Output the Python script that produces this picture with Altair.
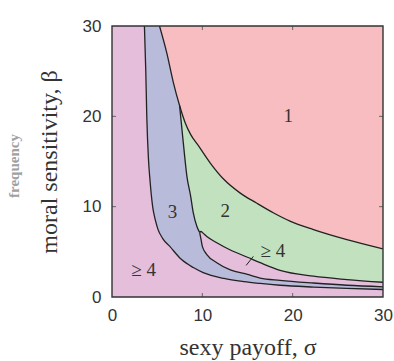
import altair as alt
import pandas as pd

# ---- boundary curves (sigma, beta) ----
c1_sigma = [3.59, 3.74, 3.85, 4.04, 4.2, 4.5, 4.8, 5.1, 5.6, 6.4, 7.7, 9.0, 10.1, 12.4, 14.6, 16.4, 18.6, 22.3, 26.0, 30.0]
c1_beta = [30.0, 25.0, 20.0, 15.2, 13.0, 10.0, 8.5, 7.46, 6.5, 5.6, 4.14, 3.26, 2.7, 2.05, 1.7, 1.5, 1.3, 1.1, 0.95, 0.83]

red_sigma = [5.26, 6.07, 6.8, 7.48, 8.1, 8.7, 9.6, 10.9, 12.4, 14.2, 16.0, 17.9, 19.7, 22.3, 26.0, 30.0]
red_beta = [30.0, 27.0, 23.7, 21.2, 19.3, 18.0, 16.7, 14.8, 13.0, 11.5, 10.4, 9.3, 8.4, 7.46, 6.35, 5.33]

bg_sigma = [7.48, 7.9, 8.3, 8.7, 9.0, 9.4, 9.7]
bg_beta = [21.2, 17.0, 13.3, 11.2, 9.3, 7.8, 7.15]

lobe_sigma = [9.7, 9.85, 10.0, 10.5, 11.6, 13.1, 15.0, 16.4, 18.6, 22.3, 26.0, 30.0]
lobe_upper = [7.15, 7.25, 7.15, 6.7, 6.0, 5.2, 4.4, 3.8, 2.95, 2.3, 1.93, 1.63]
lobe_lower = [7.15, 6.4, 5.6, 4.7, 3.8, 3.0, 2.5, 2.1, 1.85, 1.55, 1.3, 1.13]

label_text = ["1", "2", "3", "≥ 4", "≥ 4"]
label_sigma = [19.5, 12.55, 6.7, 3.5, 17.8]
label_beta = [20.0, 9.5, 9.4, 2.95, 5.05]

pointer_sigma = [14.85]
pointer_sigma2 = [15.65]
pointer_beta = [3.5]
pointer_beta2 = [4.5]

tick_values = [10, 20]
axis_values = [0, 10, 20, 30]
beta_max = 30

PINK = "#E5BEDB"
BLUE = "#B9BBDB"
GREEN = "#C2E1BF"
RED = "#F8BDC1"
INK = "#222222"

xs = alt.Scale(domain=[0, 30], nice=False, zero=False)
ys = alt.Scale(domain=[0, 30], nice=False, zero=False)

c1 = pd.DataFrame({"s": c1_sigma, "b": c1_beta})
red = pd.DataFrame({"s": red_sigma, "b": red_beta})
bg = pd.DataFrame({"s": bg_sigma, "b": bg_beta})
green = pd.DataFrame({"s": bg_sigma[:-1] + lobe_sigma, "b": bg_beta[:-1] + lobe_upper})
lobe = pd.DataFrame({"s": lobe_sigma, "lo": lobe_lower, "up": lobe_upper})
labels = pd.DataFrame({"s": label_sigma, "b": label_beta, "t": label_text})
pointer = pd.DataFrame({"s": pointer_sigma, "s2": pointer_sigma2, "b": pointer_beta, "b2": pointer_beta2})
ticks = pd.DataFrame({"v": tick_values})

X = alt.X("s:Q", scale=xs, title="sexy payoff, σ",
          axis=alt.Axis(values=axis_values, format="d"))
Y = alt.Y("b:Q", scale=ys, title="moral sensitivity, β", stack=None,
          axis=alt.Axis(values=axis_values, format="d"))

interp = "monotone"
Yp = alt.Y("b:Q", stack=None)

blue_area = alt.Chart(c1).mark_area(color=BLUE, interpolate=interp, clip=True).encode(
    x=X, y=Y, y2=alt.datum(beta_max))
green_area = alt.Chart(green).mark_area(color=GREEN, interpolate=interp, clip=True).encode(
    x="s:Q", y=Yp, y2=alt.datum(beta_max))
red_area = alt.Chart(red).mark_area(color=RED, interpolate=interp, clip=True).encode(
    x="s:Q", y=Yp, y2=alt.datum(beta_max))
lobe_area = alt.Chart(lobe).mark_area(color=PINK, interpolate=interp, clip=True).encode(
    x="s:Q", y=alt.Y("lo:Q", stack=None), y2="up:Q")

line_style = dict(color=INK, strokeWidth=1.3, interpolate=interp, clip=True)
c1_line = alt.Chart(c1).mark_line(**line_style).encode(x="s:Q", y="b:Q")
red_line = alt.Chart(red).mark_line(**line_style).encode(x="s:Q", y="b:Q")
bg_line = alt.Chart(bg).mark_line(**line_style).encode(x="s:Q", y="b:Q")
lobe_up_line = alt.Chart(lobe).mark_line(**line_style).encode(x="s:Q", y="up:Q")
lobe_lo_line = alt.Chart(lobe).mark_line(**line_style).encode(x="s:Q", y="lo:Q")

pointer_rule = alt.Chart(pointer).mark_rule(color=INK, strokeWidth=1).encode(
    x="s:Q", x2="s2:Q", y="b:Q", y2="b2:Q")

text = alt.Chart(labels).mark_text(font="Liberation Serif", fontSize=19, color="#333333").encode(
    x="s:Q", y="b:Q", text="t:N")

tick_style = dict(color="#666666", strokeWidth=1)
tb = alt.Chart(ticks).mark_rule(**tick_style).encode(x="v:Q", y=alt.value(271), y2=alt.value(267))
tt = alt.Chart(ticks).mark_rule(**tick_style).encode(x="v:Q", y=alt.value(0), y2=alt.value(4))
tl = alt.Chart(ticks).mark_rule(**tick_style).encode(y="v:Q", x=alt.value(0), x2=alt.value(4))
tr = alt.Chart(ticks).mark_rule(**tick_style).encode(y="v:Q", x=alt.value(271), x2=alt.value(267))

freq = alt.Chart(pd.DataFrame({"t": ["frequency"]})).mark_text(
    font="Liberation Serif", fontSize=15, fontWeight="bold", color="#a0a0a0", angle=270
).encode(x=alt.value(-98), y=alt.value(140), text="t:N")

frame = alt.Chart(pd.DataFrame({"t": [0]})).mark_rect(
    fill=None, stroke="#333333", strokeWidth=1.4
).encode(x=alt.value(0), x2=alt.value(271), y=alt.value(0), y2=alt.value(271))

chart = alt.layer(
    blue_area, green_area, red_area, lobe_area,
    c1_line, red_line, bg_line, lobe_up_line, lobe_lo_line,
    pointer_rule, text, tb, tt, tl, tr, freq, frame
).properties(
    width=271, height=271,
    autosize=alt.AutoSizeParams(type="none"),
    padding={"left": 112, "top": 26, "right": 11, "bottom": 64},
).configure_view(
    fill=PINK, stroke=None
).configure_axis(
    domain=False, ticks=False, grid=False,
    labelFont="Liberation Sans", labelFontSize=17, labelColor="#333333",
    labelFlush=False,
    titleFont="Liberation Serif", titleFontSize=24, titleFontWeight="normal", titleColor="#333333",
).configure_axisX(
    labelPadding=10, titlePadding=12
).configure_axisY(
    labelPadding=11, titlePadding=21
)

chart.save("out.html", embed_options={"renderer": "svg", "actions": False})
